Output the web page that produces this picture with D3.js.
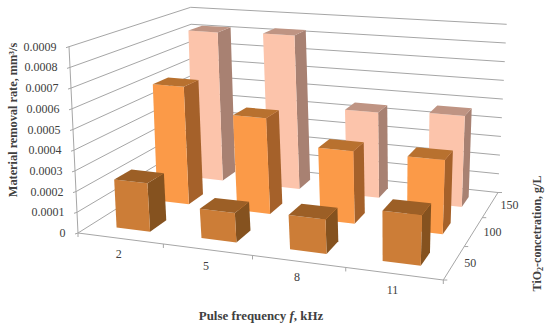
<!DOCTYPE html>
<html>
<head>
<meta charset="utf-8">
<style>
	body { margin: 0; background: #fff; }
	text { font-family: "Liberation Serif", serif; fill: #404040; }
</style>
</head>
<body>
<div id="chart"></div>
<script src="https://d3js.org/d3.v7.min.js"></script>
<script>
	var freqLabels = ['2', '5', '8', '11'];
	var concLabels = ['50', '100', '150'];
	var valueTicks = [0, 0.0001, 0.0002, 0.0003, 0.0004, 0.0005, 0.0006, 0.0007, 0.0008, 0.0009];
	var conc50 = [0.000235, 0.00014, 0.00016, 0.00023];
	var conc100 = [0.00061, 0.000485, 0.00036, 0.00036];
	var conc150 = [0.00082, 0.00083, 0.00045, 0.00047];
	var rows = [conc50, conc100, conc150];

	var rowColors = [
		{ front: '#cc7d37', top: '#9c5f26', side: '#85521f' },
		{ front: '#fb9a48', top: '#b8712f', side: '#a5612a' },
		{ front: '#fcc4ab', top: '#bf9483', side: '#a88172' }
	];

	var width = 550, height = 326;
	var svg = d3.select('#chart').append('svg')
		.attr('width', width)
		.attr('height', height);

	// corners of the 3d box on screen, floor and top, [front left, front right, back right, back left]
	var floor = [[78, 233], [443.3, 280], [498, 192.5], [194, 160]];
	var roof = [[69, 46.7], [451.3, 77], [506.7, 24.3], [190.7, 7.3]];

	// unit square -> quad
	function homography(q) {
		var dx1 = q[1][0] - q[2][0], dx2 = q[3][0] - q[2][0], sx = q[0][0] - q[1][0] + q[2][0] - q[3][0];
		var dy1 = q[1][1] - q[2][1], dy2 = q[3][1] - q[2][1], sy = q[0][1] - q[1][1] + q[2][1] - q[3][1];
		var det = dx1 * dy2 - dx2 * dy1;
		var g = (sx * dy2 - dx2 * sy) / det;
		var h = (dx1 * sy - sx * dy1) / det;
		var a = q[1][0] - q[0][0] + g * q[1][0], b = q[3][0] - q[0][0] + h * q[3][0], c = q[0][0];
		var d = q[1][1] - q[0][1] + g * q[1][1], e = q[3][1] - q[0][1] + h * q[3][1], f = q[0][1];
		return function(u, v) {
			var w = g * u + h * v + 1;
			return [(a * u + b * v + c) / w, (d * u + e * v + f) / w];
		};
	}
	var floorMap = homography(floor);
	var roofMap = homography(roof);

	var x = d3.scaleBand().domain(freqLabels).range([0, 1]).paddingInner(0.6).paddingOuter(0.3);
	var xStep = d3.scalePoint().domain(freqLabels).range([0.125, 0.875]);
	var depth = d3.scaleBand().domain(concLabels).range([0, 1]).paddingInner(0.6).paddingOuter(0.3);
	var depthStep = d3.scalePoint().domain(concLabels).range([1 / 6, 5 / 6]);
	var y = d3.scaleLinear().domain([0, 0.0009]).range([0, 1]);

	function project(u, v, t) {
		var a = floorMap(u, v), b = roofMap(u, v);
		return [a[0] + (b[0] - a[0]) * t, a[1] + (b[1] - a[1]) * t];
	}

	var line = d3.line();
	var gridColor = '#a6a6a6';

	function drawLine(pts) {
		svg.append('path')
			.attr('d', line(pts))
			.attr('fill', 'none')
			.attr('stroke', gridColor)
			.attr('stroke-width', 1);
	}

	// walls
	valueTicks.forEach(function(d) {
		var t = y(d);
		drawLine([project(0, 0, t), project(0, 1, t), project(1, 1, t)]);
	});
	drawLine([project(0, 0, 0), project(0, 0, 1)]);

	// floor edges and ticks
	drawLine([project(0, 0, 0), project(1, 0, 0)]);
	drawLine([project(1, 0, 0), project(1, 1, 0)]);
	d3.range(0, 5).forEach(function(i) {
		var p = project(i / 4, 0, 0);
		drawLine([p, [p[0], p[1] + 4]]);
	});
	d3.range(0, 4).forEach(function(i) {
		var p = project(1, i / 3, 0);
		drawLine([p, [p[0] + 4, p[1]]]);
	});
	valueTicks.forEach(function(d) {
		var p = project(0, 0, y(d));
		drawLine([p, [p[0] - 3, p[1] + 1]]);
	});

	// bars, back row first
	d3.range(rows.length - 1, -1, -1).forEach(function(j) {
		var v0 = depth(concLabels[j]), v1 = v0 + depth.bandwidth();
		d3.range(freqLabels.length - 1, -1, -1).forEach(function(i) {
			var u0 = x(freqLabels[i]), u1 = u0 + x.bandwidth();
			var t = y(rows[j][i]);
			var faces = [
				{ pts: [[u1, v0, 0], [u1, v1, 0], [u1, v1, t], [u1, v0, t]], fill: rowColors[j].side },
				{ pts: [[u0, v0, 0], [u1, v0, 0], [u1, v0, t], [u0, v0, t]], fill: rowColors[j].front },
				{ pts: [[u0, v0, t], [u1, v0, t], [u1, v1, t], [u0, v1, t]], fill: rowColors[j].top }
			];
			faces.forEach(function(f) {
				svg.append('path')
					.attr('d', line(f.pts.map(function(p) { return project(p[0], p[1], p[2]); })) + 'Z')
					.attr('fill', f.fill);
			});
		});
	});

	// tick labels
	valueTicks.forEach(function(d) {
		var p = project(0, 0, y(d));
		svg.append('text')
			.attr('x', p[0] - 12.5)
			.attr('y', p[1] + 4)
			.attr('text-anchor', 'end')
			.attr('font-size', 12)
			.text(d === 0 ? '0' : d.toFixed(4));
	});
	freqLabels.forEach(function(d) {
		var p = project(xStep(d), 0, 0);
		svg.append('text')
			.attr('x', p[0] - 1.5)
			.attr('y', p[1] + 20)
			.attr('text-anchor', 'middle')
			.attr('font-size', 12)
			.text(d);
	});
	concLabels.forEach(function(d) {
		var p = project(1, depthStep(d), 0);
		svg.append('text')
			.attr('x', p[0] + 10)
			.attr('y', p[1] + 4)
			.attr('font-size', 12)
			.text(d);
	});

	// axis titles
	svg.append('text')
		.attr('transform', 'translate(16.5,120) rotate(-90)')
		.attr('text-anchor', 'middle')
		.attr('font-size', 12.3)
		.attr('font-weight', 'bold')
		.text('Material removal rate, mm³/s');

	var xTitle = svg.append('text')
		.attr('x', 261)
		.attr('y', 320)
		.attr('text-anchor', 'middle')
		.attr('font-size', 12.9)
		.attr('font-weight', 'bold');
	xTitle.append('tspan').text('Pulse frequency ');
	xTitle.append('tspan').attr('font-style', 'italic').text('f');
	xTitle.append('tspan').text(', kHz');

	var zTitle = svg.append('text')
		.attr('transform', 'translate(541,233.5) rotate(-90)')
		.attr('text-anchor', 'middle')
		.attr('font-size', 12)
		.attr('font-weight', 'bold');
	zTitle.append('tspan').text('TiO');
	zTitle.append('tspan').attr('font-size', 8).attr('dy', 2).text('2');
	zTitle.append('tspan').attr('dy', -2).text('-concetration, g/L');
</script>
</body>
</html>
